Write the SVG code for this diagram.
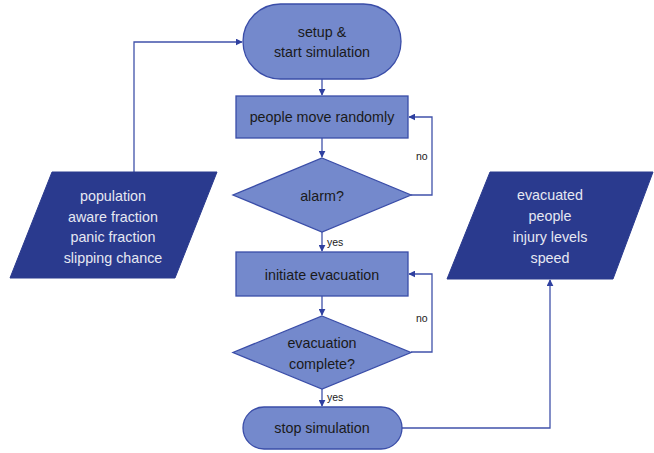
<svg xmlns="http://www.w3.org/2000/svg" width="654" height="453" viewBox="0 0 654 453">
<defs>
<style>
.n{fill:#7489cc;stroke:#3a4da8;stroke-width:1.3}
.io{fill:#2a3a8e;stroke:#2a3a8e;stroke-width:1}
.t{font-family:"Liberation Sans",Arial,sans-serif;font-size:14.3px;fill:#1a1a1a;text-anchor:middle;dominant-baseline:central}
.w{font-family:"Liberation Sans",Arial,sans-serif;font-size:14.3px;fill:#e6e8f2;text-anchor:middle;dominant-baseline:central}
.l{font-family:"Liberation Sans",Arial,sans-serif;font-size:10.5px;fill:#1a1a1a;dominant-baseline:central}
.c{fill:none;stroke:#4052aa;stroke-width:1.3}
</style>
<marker id="a" viewBox="0 0 10 10" refX="9" refY="5" markerWidth="7" markerHeight="7" orient="auto" markerUnits="userSpaceOnUse"><path d="M0,0L10,5L0,10z" fill="#2f40a0"/></marker>
</defs>
<g id="connectors">
<path class="c" d="M322,79V95" marker-end="url(#a)"/>
<path class="c" d="M322,138V157" marker-end="url(#a)"/>
<path class="c" d="M411,195H432V117H409" marker-end="url(#a)"/>
<path class="c" d="M322,232V251" marker-end="url(#a)"/>
<path class="c" d="M322,296V315" marker-end="url(#a)"/>
<path class="c" d="M411,352H432V274H409" marker-end="url(#a)"/>
<path class="c" d="M322,389V406" marker-end="url(#a)"/>
<path class="c" d="M402,428H550V280" marker-end="url(#a)"/>
<path class="c" d="M134,172V42H242" marker-end="url(#a)"/>
<text class="l" x="416" y="156">no</text>
<text class="l" x="327" y="242">yes</text>
<text class="l" x="416" y="318">no</text>
<text class="l" x="327" y="397">yes</text>
</g>
<g id="start">
<rect class="n" x="243" y="4" width="158" height="75" rx="37.5"/>
<text class="t" x="322" y="32">setup &amp;</text>
<text class="t" x="322" y="52">start simulation</text>
</g>
<g id="move">
<rect class="n" x="236" y="96" width="172" height="42"/>
<text class="t" x="322" y="117">people move randomly</text>
</g>
<g id="alarm">
<polygon class="n" points="322,158 411,195 322,232 233,195"/>
<text class="t" x="322" y="196">alarm?</text>
</g>
<g id="evacuate">
<rect class="n" x="236" y="252" width="172" height="44"/>
<text class="t" x="322" y="275">initiate evacuation</text>
</g>
<g id="complete">
<polygon class="n" points="322,316 411,352.5 322,389 233,352.5"/>
<text class="t" x="322" y="343">evacuation</text>
<text class="t" x="322" y="364">complete?</text>
</g>
<g id="stop">
<rect class="n" x="243" y="407" width="159" height="42" rx="21"/>
<text class="t" x="322" y="428">stop simulation</text>
</g>
<g id="inputs">
<polygon class="io" points="52,172 217,172 175,278 10,278"/>
<text class="w" x="113" y="196">population</text>
<text class="w" x="113" y="216.5">aware fraction</text>
<text class="w" x="113" y="237">panic fraction</text>
<text class="w" x="113" y="257.5">slipping chance</text>
</g>
<g id="outputs">
<polygon class="io" points="490,172 653,172 613,279 447,279"/>
<text class="w" x="550" y="195">evacuated</text>
<text class="w" x="550" y="216">people</text>
<text class="w" x="550" y="237">injury levels</text>
<text class="w" x="550" y="258">speed</text>
</g>
</svg>
